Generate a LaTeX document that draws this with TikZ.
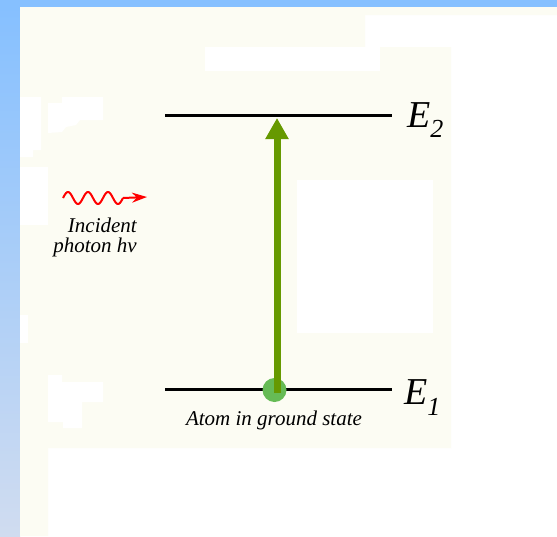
\documentclass[tikz,border=0pt]{standalone}
\usepackage{fontspec}
\setmainfont{Liberation Serif}
\usetikzlibrary{arrows.meta}
\definecolor{cream}{RGB}{252,252,243}
\definecolor{bluetop}{RGB}{134,192,255}
\definecolor{bluebot}{RGB}{208,220,240}
\definecolor{arrowgreen}{RGB}{102,153,0}
\definecolor{atomgreen}{RGB}{102,187,85}
\definecolor{photonred}{RGB}{255,0,0}
\tikzset{
  level/.style={line width=3pt, black},
  patch/.style={fill=white, draw=none},
  caption/.style={font=\fontsize{21}{24}\selectfont\itshape, inner sep=0pt},
  elabel/.style={font=\fontsize{38}{40}\selectfont\itshape, inner sep=0pt, anchor=base west},
  pump/.style={line width=7pt, arrowgreen, -{Triangle[width=22pt,length=21pt]}},
  photon/.style={photonred, line width=2pt}
}
\begin{document}
\begin{tikzpicture}[x=1pt,y=-1pt]
\useasboundingbox (0,0) rectangle (557,536);
% backgrounds
\fill[white] (0,0) rectangle (557,536);
\fill[bluetop] (0,0) rectangle (557,7);
\shade[top color=bluetop, bottom color=bluebot] (0,7) rectangle (20,536);
\fill[cream] (20,7) -- (557,7) -- (557,15) -- (365,15) -- (365,47) -- (451,47)
  -- (451,448) -- (48,448) -- (48,536) -- (20,536) -- cycle;
% white patches
\fill[patch] (205,47) rectangle (380,71);
\fill[patch] (297,180) rectangle (433,333);
\fill[patch] (20,97) -- (41,97) -- (41,150) -- (33,150) -- (33,157) -- (20,157) -- cycle;
\fill[patch] (48,103) -- (62,103) -- (62,97) -- (103,97) -- (103,120) -- (80,120)
  -- (76,125) -- (66,127) -- (62,132) -- (48,133) -- cycle;
\fill[patch] (20,167) rectangle (48,225);
\fill[patch] (20,315) rectangle (28,343);
\fill[patch] (48,375) -- (62,375) -- (62,382) -- (103,382) -- (103,402) -- (82,402)
  -- (82,428) -- (63,428) -- (63,422) -- (48,422) -- cycle;
% energy levels
\coordinate (e2l) at (165,115);
\coordinate (e2r) at (392,115);
\coordinate (e1l) at (165,389);
\coordinate (e1r) at (392,389);
\draw[level] (e2l) -- (e2r);
\draw[level] (e1l) -- (e1r);
% atom
\node[circle, fill=atomgreen, minimum size=24pt, inner sep=0pt] (atom) at (274.5,390) {};
\coordinate (pumpstart) at (277,393);
\coordinate (pumpend) at (277,118);
\draw[pump] (pumpstart) -- (pumpend);
% labels
\node[elabel] (lE2) at (407,127) {E\raisebox{-10pt}{\fontsize{26}{26}\selectfont 2}};
\node[elabel] (lE1) at (404,404) {E\raisebox{-11pt}{\fontsize{26}{26}\selectfont 1}};
\node[caption, anchor=base] (atomtext) at (274,425) {Atom in ground state};
% photon
\coordinate (wstart) at (63,198);
\coordinate (wend) at (123,198);
\coordinate (wtip) at (147,197);
\draw[photon, domain=63:123, samples=80, smooth] plot (\x, {198-6*sin(18*(\x-63))});
\draw[photon, -{Stealth[width=10pt,length=15pt]}] (wend) -- (wtip);
\node[caption, anchor=base east] (inc) at (137,232) {Incident};
\node[caption, anchor=base east] (pho) at (137,252) {photon hν};
\end{tikzpicture}
\end{document}
